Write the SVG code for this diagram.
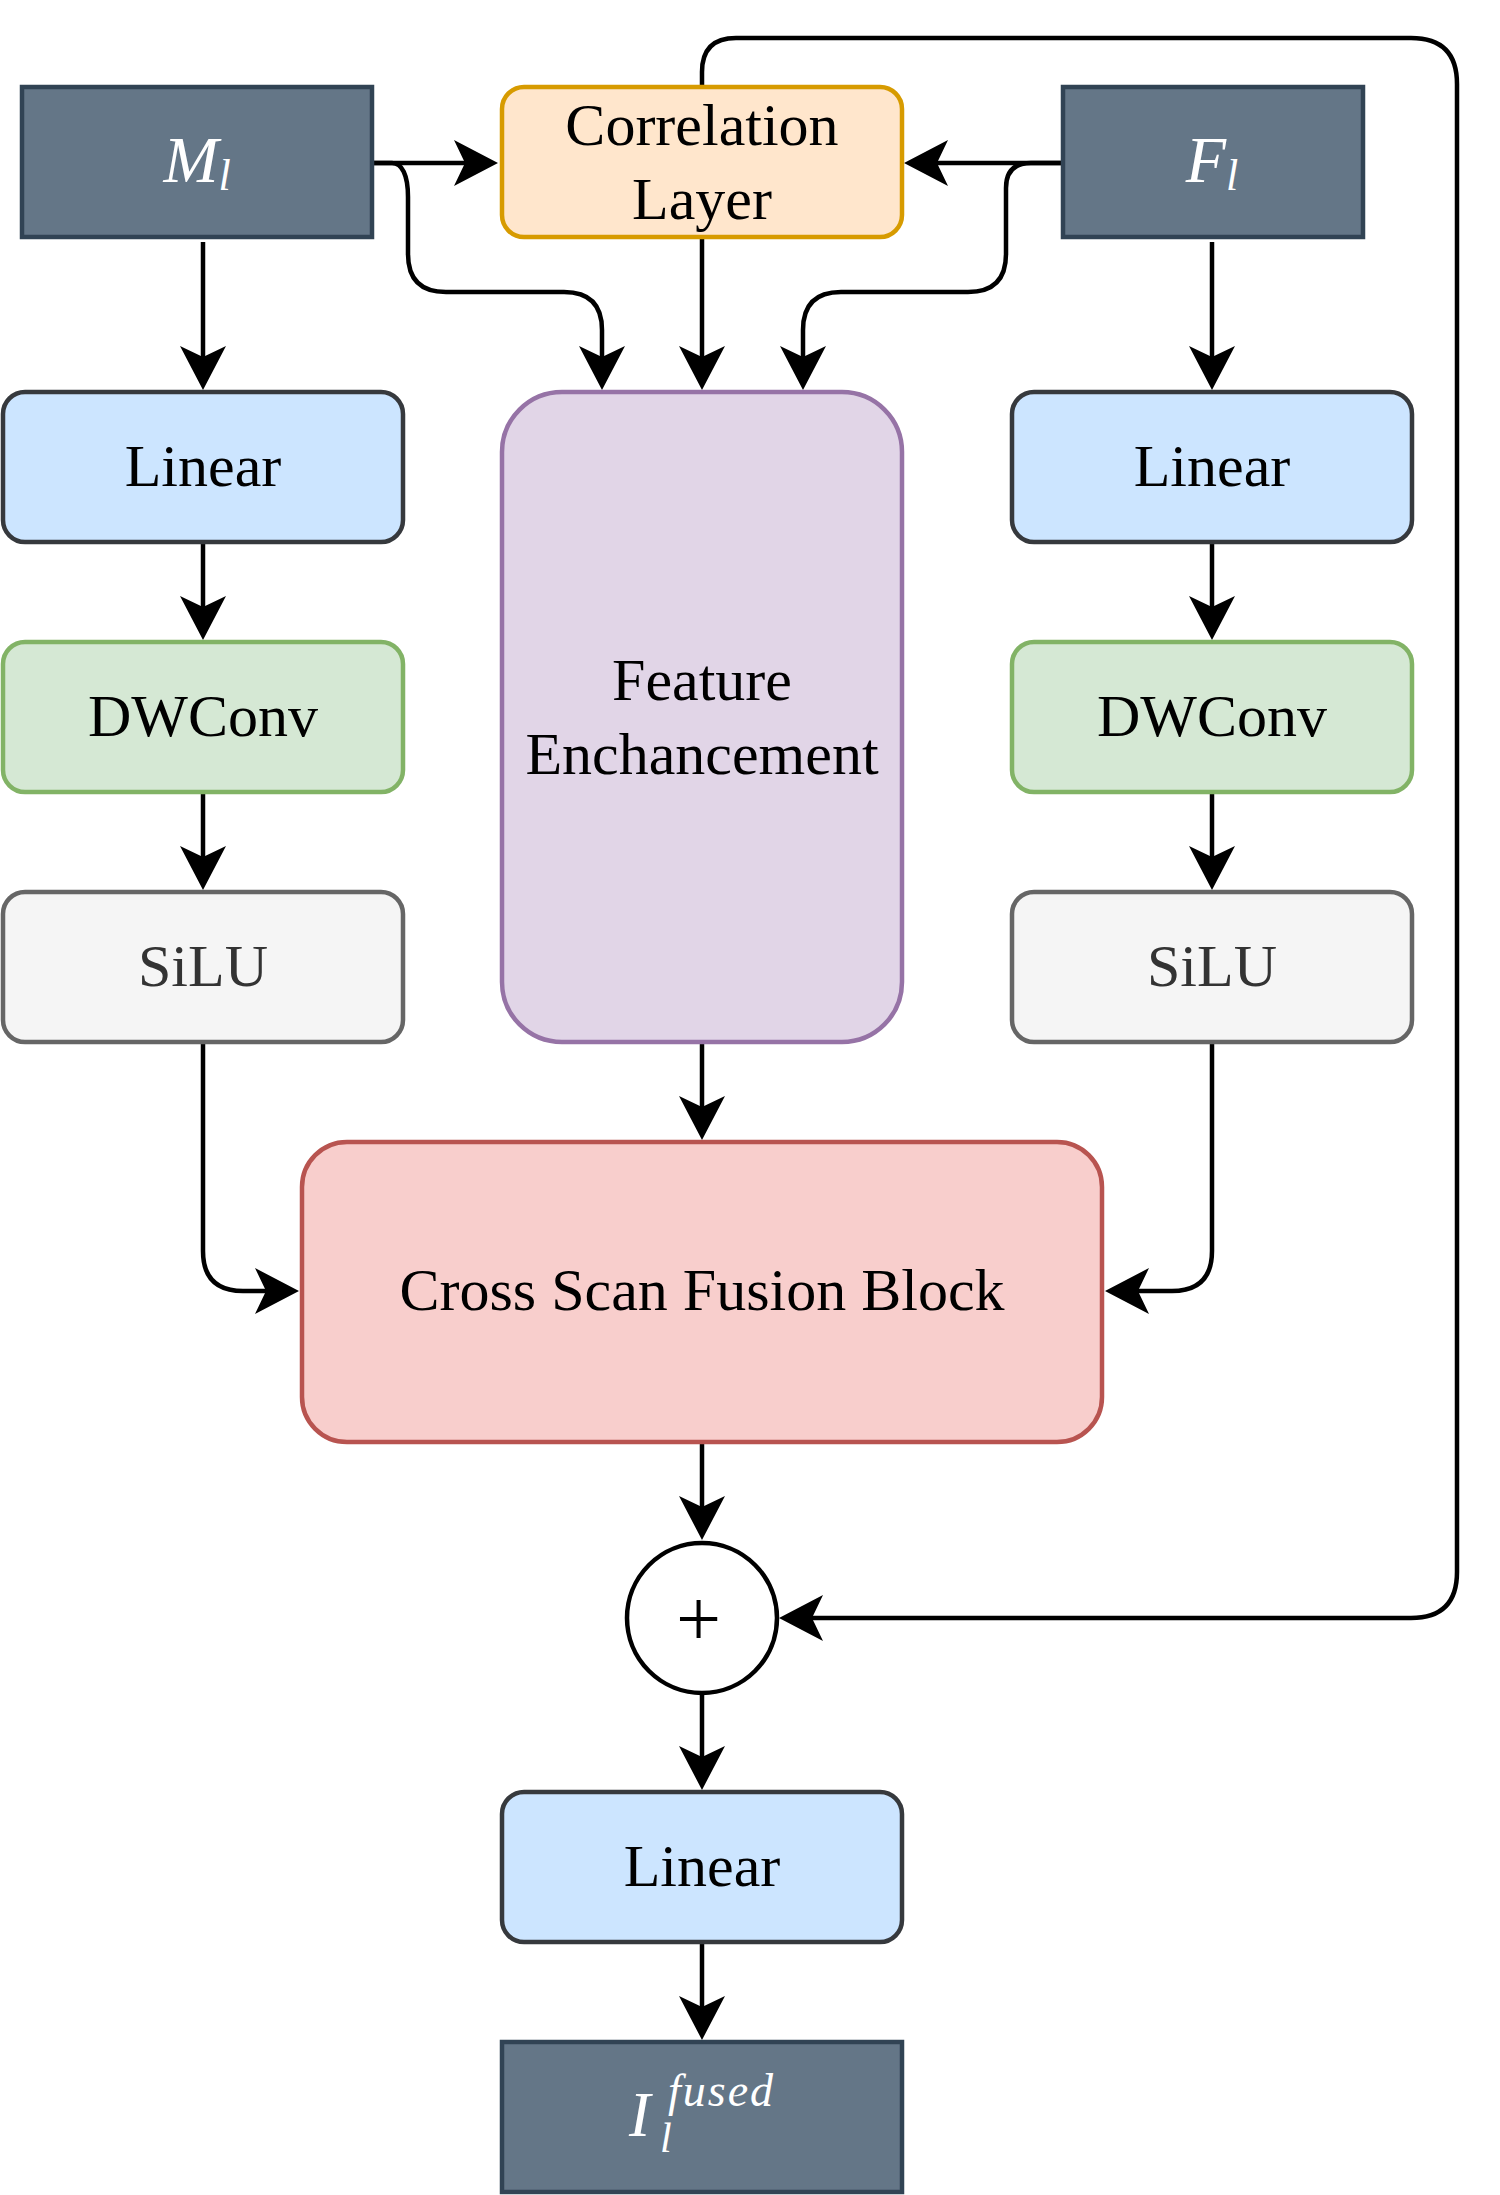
<svg xmlns="http://www.w3.org/2000/svg" width="1500" height="2195" viewBox="0 0 1500 2195">
<defs>
<marker id="arr" markerUnits="userSpaceOnUse" viewBox="-14 -25 50 50" refX="0" refY="0" markerWidth="50" markerHeight="50" orient="auto">
<path d="M33,0 L-11,-23 L0,0 L-11,23 Z" fill="#000"/>
</marker>
<style>
.lbl{font-family:"Liberation Serif","Times New Roman",serif;font-size:60px;text-anchor:middle;fill:#000}
.math{font-family:"Liberation Serif","Times New Roman",serif;font-style:italic;fill:#fff}
.dark{fill:#647687;stroke:#314354;stroke-width:4.5}
.lin{fill:#cce5ff;stroke:#36393d;stroke-width:4.5}
.dw{fill:#d5e8d4;stroke:#82b366;stroke-width:4.5}
.silu{fill:#f5f5f5;stroke:#666666;stroke-width:4.5}
.corr{fill:#ffe6cc;stroke:#d79b00;stroke-width:4.5}
.fe{fill:#e1d5e7;stroke:#9673a6;stroke-width:4.5}
.csf{fill:#f8cecc;stroke:#b85450;stroke-width:4.5}
.edge{fill:none;stroke:#000;stroke-width:4.5;marker-end:url(#arr)}
</style>
</defs>
<rect width="1500" height="2195" fill="#fff"/>
<g id="connectors">
<path class="edge" d="M374 163 L465 163"/>
<path class="edge" d="M374 163 L392 163 C402 163 408 175 408 197 L408 254 Q408 292 446 292 L564 292 Q602 292 602 330 L602 357"/>
<path class="edge" d="M702 237 L702 357"/>
<path class="edge" d="M1063 163 L937 163"/>
<path class="edge" d="M1063 163 L1031 163 Q1006 163 1006 188 L1006 254 Q1006 292 968 292 L841 292 Q803 292 803 330 L803 357"/>
<path class="edge" d="M702 87 L702 72 Q702 38 736 38 L1411 38 Q1457 38 1457 84 L1457 1572 Q1457 1618 1411 1618 L812 1618"/>
<path class="edge" d="M203 242 L203 357"/>
<path class="edge" d="M203 542 L203 607"/>
<path class="edge" d="M203 792 L203 857"/>
<path class="edge" d="M1212 242 L1212 357"/>
<path class="edge" d="M1212 542 L1212 607"/>
<path class="edge" d="M1212 792 L1212 857"/>
<path class="edge" d="M203 1042 L203 1251 Q203 1291 243 1291 L266 1291"/>
<path class="edge" d="M1212 1042 L1212 1251 Q1212 1291 1172 1291 L1138 1291"/>
<path class="edge" d="M702 1042 L702 1107"/>
<path class="edge" d="M702 1442 L702 1507"/>
<path class="edge" d="M702 1693 L702 1757"/>
<path class="edge" d="M702 1942 L702 2007"/>
</g>
<g id="node-Ml">
<rect class="dark" x="22" y="87" width="350" height="150"/>
<text class="math" x="197" y="182" font-size="66" text-anchor="middle">M<tspan font-size="44" dy="8">l</tspan></text>
</g>
<g id="node-corr">
<rect class="corr" x="502" y="87" width="400" height="150" rx="22"/>
<text class="lbl" x="702" y="145">Correlation</text>
<text class="lbl" x="702" y="219">Layer</text>
</g>
<g id="node-Fl">
<rect class="dark" x="1063" y="87" width="300" height="150"/>
<text class="math" x="1212" y="182" font-size="66" text-anchor="middle">F<tspan font-size="44" dy="8">l</tspan></text>
</g>
<g id="node-linear-l">
<rect class="lin" x="3" y="392" width="400" height="150" rx="22"/>
<text class="lbl" x="203" y="486">Linear</text>
</g>
<g id="node-dwconv-l">
<rect class="dw" x="3" y="642" width="400" height="150" rx="22"/>
<text class="lbl" x="203" y="736">DWConv</text>
</g>
<g id="node-silu-l">
<rect class="silu" x="3" y="892" width="400" height="150" rx="22"/>
<text class="lbl" x="203" y="986" style="fill:#333333">SiLU</text>
</g>
<g id="node-linear-r">
<rect class="lin" x="1012" y="392" width="400" height="150" rx="22"/>
<text class="lbl" x="1212" y="486">Linear</text>
</g>
<g id="node-dwconv-r">
<rect class="dw" x="1012" y="642" width="400" height="150" rx="22"/>
<text class="lbl" x="1212" y="736">DWConv</text>
</g>
<g id="node-silu-r">
<rect class="silu" x="1012" y="892" width="400" height="150" rx="22"/>
<text class="lbl" x="1212" y="986" style="fill:#333333">SiLU</text>
</g>
<g id="node-fe">
<rect class="fe" x="502" y="392" width="400" height="650" rx="60"/>
<text class="lbl" x="702" y="700">Feature</text>
<text class="lbl" x="702" y="774">Enchancement</text>
</g>
<g id="node-csf">
<rect class="csf" x="302" y="1142" width="800" height="300" rx="45"/>
<text class="lbl" x="702" y="1310">Cross Scan Fusion Block</text>
</g>
<g id="node-add">
<circle cx="702" cy="1618" r="75" fill="#fff" stroke="#000" stroke-width="4.5"/>
<text class="lbl" x="698.5" y="1646" style="font-size:80px">+</text>
</g>
<g id="node-linear-b">
<rect class="lin" x="502" y="1792" width="400" height="150" rx="22"/>
<text class="lbl" x="702" y="1886">Linear</text>
</g>
<g id="node-out">
<rect class="dark" x="502" y="2042" width="400" height="150"/>
<text class="math" font-size="64"><tspan x="629" y="2136">I</tspan><tspan x="668" y="2106" font-size="46" letter-spacing="2">fused</tspan><tspan x="660" y="2152" font-size="42">l</tspan></text>
</g>
</svg>
